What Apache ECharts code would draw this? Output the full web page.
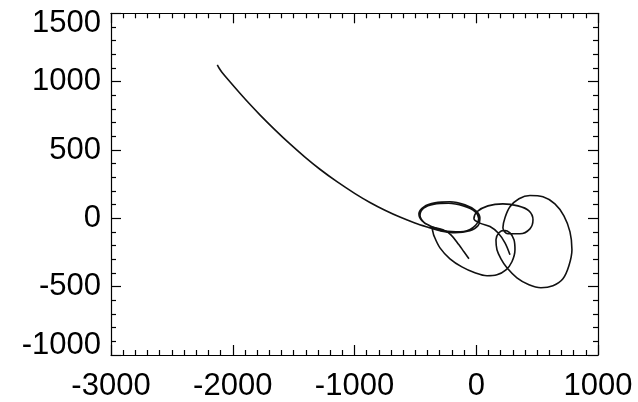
<!DOCTYPE html>
<html>
<head>
<meta charset="utf-8">
<script src="https://cdn.jsdelivr.net/npm/echarts@6/dist/echarts.min.js"></script>
<style>
  html, body { margin: 0; padding: 0; background: #ffffff; }
  #chart { width: 638px; height: 402px; }
</style>
</head>
<body>
<div id="chart"></div>
<script>
// Axis ticks
const xTicks = [-3000, -2000, -1000, 0, 1000];
const yTicks = [-1000, -500, 0, 500, 1000, 1500];

// Long approach arc from the upper left
const approachX = [-2127, -2113, -2089, -2023, -1941, -1859, -1777, -1653, -1530, -1407, -1284, -1144, -996, -873, -750, -627, -504, -397];
const approachY = [1122, 1100, 1069, 999, 915, 834, 757, 647, 544, 448, 359, 268, 181, 116, 59, 9, -34, -65];

// Small ellipse near -250, traced twice
const loopAX = [-298, -175, -52, 14, 30, -3, -93, -216, -339, -430, -471, -446, -364, -262, -130, -25, 20, -8, -105, -228, -347, -432, -462, -430, -370];
const loopAY = [-91, -106, -91, -55, 4, 55, 99, 121, 113, 84, 33, -18, -62, -91, -99, -66, -2, 48, 90, 110, 103, 74, 22, -30, -64];

// Lower swing with the small curl near 200
const loopDX = [-347, -298, -216, -118, -11, 88, 170, 244, 293, 318, 310, 277, 228, 186, 162, 170, 203];
const loopDY = [-128, -216, -296, -355, -398, -420, -413, -377, -318, -230, -157, -106, -88, -106, -157, -230, -296];

// Large tilted loop on the right
const loopCX = [252, 334, 433, 531, 630, 712, 761, 786, 770, 720, 646, 548, 441, 351, 277, 236, 219];
const loopCY = [-362, -435, -486, -508, -493, -442, -347, -230, -99, 18, 106, 157, 167, 143, 84, 4, -69];

// Middle ellipse and the final hook
const loopBX = [260, 359, 441, 466, 433, 343, 219, 96, 6, -19, 30, 113, 178, 236, 277];
const loopBY = [-113, -113, -77, -11, 55, 91, 106, 91, 48, -4, -35, -60, -106, -179, -267];

// Short side branch
const branchX = [-380, -274, -208, -142, -101, -60];
const branchY = [-62, -84, -121, -194, -245, -296];

function pairs(xs, ys) {
  return xs.map((x, i) => [x, ys[i]]);
}

const mainPath = pairs(
  approachX.concat(loopAX, loopDX, loopCX, loopBX),
  approachY.concat(loopAY, loopDY, loopCY, loopBY)
);
const branchPath = pairs(branchX, branchY);

const FONT = 'Liberation Sans, Arial, Helvetica, sans-serif';

function valueAxis(pos, ticks, minorSplits, showLabels, extraLabel) {
  const step = ticks[1] - ticks[0];
  return {
    type: 'value',
    position: pos,
    min: ticks[0],
    max: ticks[ticks.length - 1],
    interval: step,
    axisLine: { show: true, onZero: false, lineStyle: { color: '#000', width: 1.2 } },
    axisTick: { show: true, inside: true, length: 10, lineStyle: { color: '#000', width: 1.2 } },
    minorTick: { show: true, splitNumber: minorSplits, length: 5, lineStyle: { color: '#000', width: 1.2 } },
    splitLine: { show: false },
    minorSplitLine: { show: false },
    axisLabel: Object.assign({
      show: showLabels,
      color: '#000',
      fontFamily: FONT,
      fontSize: 31,
      formatter: v => String(v)
    }, extraLabel || {})
  };
}

const chart = echarts.init(document.getElementById('chart'), null, { renderer: 'canvas' });
chart.setOption({
  backgroundColor: '#ffffff',
  animation: false,
  grid: { left: 111, right: 40, top: 13.3, bottom: 46.8, containLabel: false },
  xAxis: [
    valueAxis('bottom', xTicks, 10, true, { margin: 16 }),
    valueAxis('top', xTicks, 10, false)
  ],
  yAxis: [
    valueAxis('left', yTicks, 5, true, {
      margin: 10,
      lineHeight: 20,
      verticalAlignMinLabel: 'bottom',
      verticalAlignMaxLabel: 'top'
    }),
    valueAxis('right', yTicks, 5, false)
  ],
  series: [
    {
      type: 'line',
      data: mainPath,
      showSymbol: false,
      symbol: 'none',
      smooth: 0.35,
      lineStyle: { color: '#111', width: 1.6 }
    },
    {
      type: 'line',
      data: branchPath,
      showSymbol: false,
      symbol: 'none',
      smooth: 0.35,
      lineStyle: { color: '#111', width: 1.6 }
    }
  ]
});
</script>
</body>
</html>
